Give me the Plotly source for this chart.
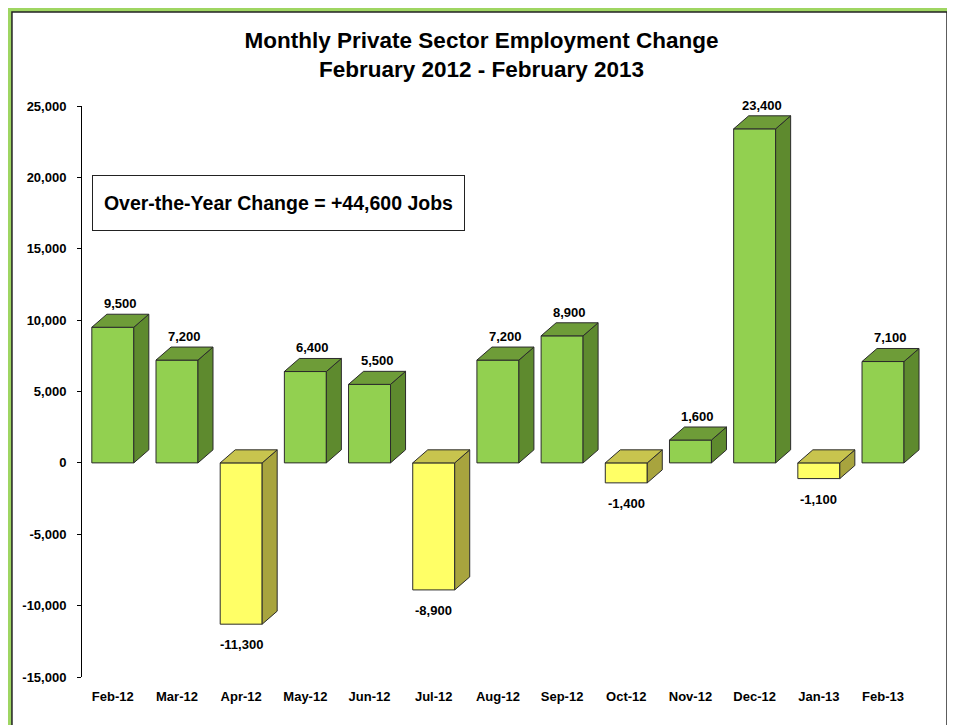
import numpy as np
import plotly.graph_objects as go

# monthly change in private sector jobs, Feb 2012 - Feb 2013
months = ['Feb-12', 'Mar-12', 'Apr-12', 'May-12', 'Jun-12', 'Jul-12', 'Aug-12',
          'Sep-12', 'Oct-12', 'Nov-12', 'Dec-12', 'Jan-13', 'Feb-13']
change = [9500, 7200, -11300, 6400, 5500, -8900, 7200, 8900, -1400, 1600, 23400, -1100, 7100]
y_ticks = [-15000, -10000, -5000, 0, 5000, 10000, 15000, 20000, 25000]
box_text = 'Over-the-Year Change = +44,600 Jobs'

font = 'Liberation Sans, Arial'

x = np.arange(len(months))
vals = np.array(change)
bw = 0.654      # front face width (category units)
dx = 0.234      # depth offset, x
dy = 913        # depth offset, y (data units)

fig = go.Figure(
    layout=go.Layout(
        width=947,
        height=717,
        margin=dict(l=74, r=20, t=98, b=48),
        paper_bgcolor='#9FD662',
        plot_bgcolor='white',
        showlegend=False,
        ))

green = dict(front='#92D050', side='#5E8A2E', top='#6E9C38')
yellow = dict(front='#FFFF66', side='#A8A43E', top='#C8C44E')

# front faces
fig.add_trace(go.Bar(x=x, y=vals, width=bw,
                     marker=dict(color=[green['front'] if v >= 0 else yellow['front'] for v in vals],
                                 line=dict(color='#2b2b2b', width=1)),
                     hoverinfo='skip'))

# side and top faces as filled polygons
for pal, mask in [(green, vals >= 0), (yellow, vals < 0)]:
    sx, sy, tx, ty = [], [], [], []
    for xi, v in zip(x[mask], vals[mask]):
        hi = max(v, 0)
        lo = min(v, 0)
        r = xi + bw / 2
        l = xi - bw / 2
        sx += [r, r + dx, r + dx, r, r, None]
        sy += [lo, lo + dy, hi + dy, hi, lo, None]
        tx += [l, l + dx, r + dx, r, l, None]
        ty += [hi, hi + dy, hi + dy, hi, hi, None]
    fig.add_trace(go.Scatter(x=sx, y=sy, mode='lines', fill='toself', fillcolor=pal['side'],
                             line=dict(color='#2b2b2b', width=1), hoverinfo='skip'))
    fig.add_trace(go.Scatter(x=tx, y=ty, mode='lines', fill='toself', fillcolor=pal['top'],
                             line=dict(color='#2b2b2b', width=1), hoverinfo='skip'))

# value labels
for xi, v in zip(x, vals):
    if v >= 0:
        fig.add_annotation(x=xi + dx / 2, y=v + dy, text=f'{v:,}', showarrow=False,
                           yanchor='bottom', yshift=1,
                           font=dict(family=font, size=13, color='black', weight='bold'))
    else:
        fig.add_annotation(x=xi, y=v, text=f'{v:,}', showarrow=False,
                           yanchor='top', yshift=-11,
                           font=dict(family=font, size=13, color='black', weight='bold'))

# over-the-year box
fig.add_annotation(xref='paper', yref='paper', x=0.2304, y=0.830, text=box_text,
                   showarrow=False, xanchor='center', yanchor='middle',
                   width=369, height=52, bgcolor='white', bordercolor='#222', borderwidth=1,
                   font=dict(family=font, size=19.5, color='black', weight='bold'))

# white chart frame on green border
fig.add_shape(type='rect', xref='paper', yref='paper', x0=-0.0821, x1=1.0141, y0=-0.2, y1=1.1646,
              fillcolor='white', line=dict(color='#222', width=1.5), layer='below')

fig.update_layout(
    title=dict(text='Monthly Private Sector Employment Change<br>February 2012 - February 2013',
               x=0.5, xanchor='center', y=0.944, yanchor='middle',
               font=dict(family=font, size=22.5, color='black', weight='bold')))

fig.update_xaxes(range=[-0.48, 12.81], tickvals=x, ticktext=months, showline=False,
                 showgrid=False, zeroline=False, ticks='', ticklabelstandoff=10,
                 tickfont=dict(family=font, size=13, color='black', weight='bold'))
fig.update_yaxes(range=[-15000, 25000], tickvals=y_ticks, ticktext=[f'{t:,}' for t in y_ticks],
                 showline=True, linecolor='black', linewidth=1, ticks='outside', ticklen=4,
                 tickcolor='black', showgrid=False, zeroline=False, ticklabelstandoff=8,
                 tickfont=dict(family=font, size=13, color='black', weight='bold'))

fig.write_html("out.html")
